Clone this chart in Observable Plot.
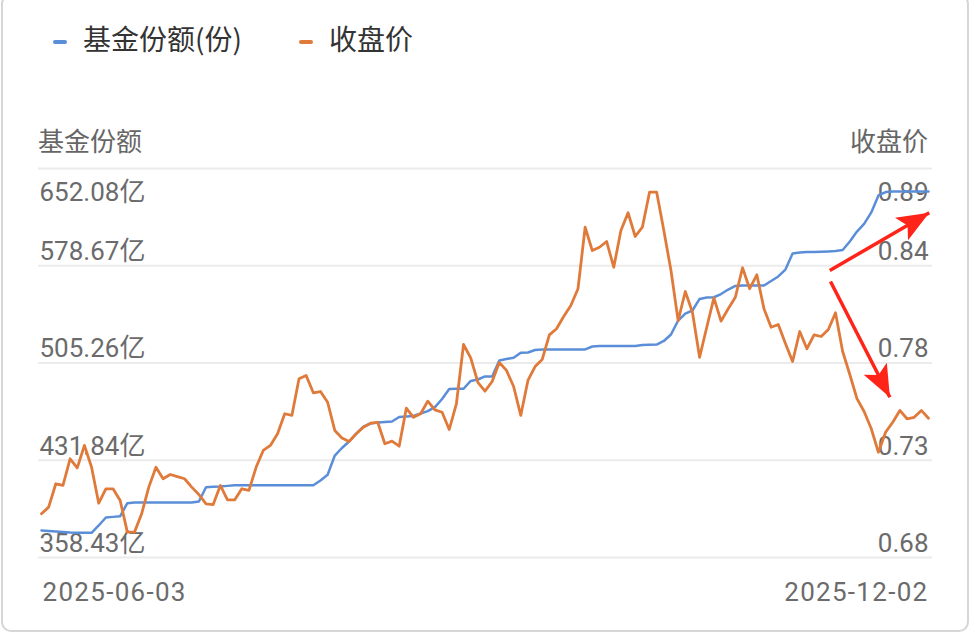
<!DOCTYPE html>
<html><head><meta charset="utf-8">
<script src="https://cdn.jsdelivr.net/npm/d3@7"></script>
<script src="https://cdn.jsdelivr.net/npm/@observablehq/plot@0.6"></script>
<style>
html,body{margin:0;padding:0;background:#fff;}
#wrap{position:relative;width:972px;height:635px;overflow:hidden;font-family:Roboto,"Noto Sans CJK SC",sans-serif;}
#border{position:absolute;left:1px;top:-6px;width:968px;height:638px;border:2px solid #d6d6d6;border-radius:10px;box-sizing:border-box;}
.leg{position:absolute;top:18px;font-size:28px;color:#333;font-family:"Noto Sans CJK SC",sans-serif;line-height:40px;white-space:nowrap;}
.sw{position:absolute;top:40px;width:14px;height:4px;border-radius:2px;}
.ttl{position:absolute;top:123px;font-size:26px;color:#666;font-family:"Noto Sans CJK SC",sans-serif;line-height:34px;white-space:nowrap;}
#chart{position:absolute;left:0;top:0;}
#chart g[aria-label="x-axis tick label"] text{letter-spacing:1.3px;}
</style></head>
<body>
<div id="wrap">
  <div id="border"></div>
  <div id="chart"></div>
  <div class="sw" style="left:53px;background:#5b8ed8"></div>
  <div class="leg" style="left:83px">基金份额(份)</div>
  <div class="sw" style="left:299px;background:#e07a3a"></div>
  <div class="leg" style="left:329px">收盘价</div>
  <div class="ttl" style="left:38px">基金份额</div>
  <div class="ttl" style="right:44px">收盘价</div>
</div>
<script>
// ---- data ----
const dateLabels = ["2025-06-03", "2025-12-02"];
const seriesNames = ["基金份额(份)", "收盘价"];
// fund shares, 亿份, one value per trading day
const shares = [378.8,378.4,378.1,377.7,377.3,377.1,377.1,377.1,382.6,388.6,
389.1,389.6,399.4,399.9,399.9,399.9,399.9,399.9,399.9,399.9,
399.9,399.9,400.7,411.5,411.8,412.0,412.5,413.0,413.0,413.0,
413.0,413.0,413.0,413.0,413.0,413.0,413.0,413.0,413.0,416.6,
420.9,435.4,441.1,446.0,452.0,457.3,459.6,460.3,460.7,461.1,
464.5,464.9,465.3,467.1,468.9,472.0,478.1,485.6,485.8,485.8,
491.7,492.8,495.1,495.1,507.1,508.3,509.2,513.0,513.2,515.1,
515.5,515.5,515.5,515.5,515.5,515.5,515.5,517.7,518.1,518.1,
518.1,518.1,518.1,518.1,518.8,519.0,519.2,521.9,526.8,537.3,
542.6,544.9,553.6,554.7,554.9,557.3,560.7,563.4,563.8,563.8,
563.8,563.8,567.2,570.6,575.8,587.9,588.7,589.0,589.1,589.3,
589.5,589.8,590.6,597.0,604.5,610.3,618.9,631.7,634.3,634.7,
634.7,634.7,634.7,634.7,634.7];
// closing price
const close = [0.7036,0.7072,0.7198,0.7189,0.7333,0.7284,0.7405,0.7287,0.7093,0.7171,
0.7171,0.7108,0.6937,0.6937,0.7036,0.7180,0.7287,0.7225,0.7248,0.7237,
0.7225,0.7180,0.7140,0.7090,0.7086,0.7189,0.7111,0.7111,0.7171,0.7162,
0.7287,0.7378,0.7405,0.7468,0.7576,0.7567,0.7765,0.7783,0.7689,0.7696,
0.7638,0.7486,0.7445,0.7426,0.7468,0.7503,0.7525,0.7530,0.7414,0.7428,
0.7401,0.7606,0.7557,0.7576,0.7644,0.7597,0.7584,0.7491,0.7630,0.7950,
0.7878,0.7746,0.7698,0.7750,0.7853,0.7810,0.7723,0.7567,0.7756,0.7831,
0.7869,0.8002,0.8035,0.8101,0.8160,0.8251,0.8583,0.8457,0.8475,0.8506,
0.8367,0.8565,0.8661,0.8533,0.8583,0.8772,0.8772,0.8565,0.8349,0.8079,
0.8236,0.8124,0.7881,0.8043,0.8202,0.8076,0.8143,0.8205,0.8364,0.8251,
0.8326,0.8143,0.8043,0.8058,0.7955,0.7858,0.8020,0.7927,0.8002,0.7993,
0.8031,0.8121,0.7912,0.7788,0.7658,0.7588,0.7495,0.7368,0.7476,0.7530,
0.7594,0.7549,0.7557,0.7594,0.7552];
// axis ticks
const shareTicks = [358.43, 431.84, 505.26, 578.67, 652.08];
const priceTickLabels = ["0.68", "0.73", "0.78", "0.84", "0.89"];
const priceDomain = [0.68, 0.89];
// red annotation arrows (x: trading-day index, y: left-axis units)
const arrowStartX = [110.2, 110.3];
const arrowStartY = [575.1, 566.8];
const arrowEndX = [124.1, 118.6];
const arrowEndY = [618.6, 479.4];

// ---- build ----
const W = 972, H = 635, mT = 168, mB = 78, mL = 41, mR = 44;
const shareDomain = [shareTicks[0], shareTicks[shareTicks.length - 1]];
const lastIdx = shares.length - 1;
const toLeft = d3.scaleLinear().domain(priceDomain).range(shareDomain);
const shareRows = shares.map((v, i) => ({i, v}));
const priceRows = close.map((p, i) => ({i, p, y: toLeft(p)}));
const priceLabelOf = new Map(shareTicks.map((t, k) => [t, priceTickLabels[k]]));

// same scales as the plot, used only to orient the arrow heads
const sx = Plot.scale({x: {domain: [0, lastIdx], range: [mL, W - mR]}});
const sy = Plot.scale({y: {domain: shareDomain, range: [H - mB, mT]}});
const arrows = arrowStartX.map((x1, k) => {
  const a = {x1, y1: arrowStartY[k], x2: arrowEndX[k], y2: arrowEndY[k]};
  const dx = sx.apply(a.x2) - sx.apply(a.x1), dy = sy.apply(a.y2) - sy.apply(a.y1);
  a.angle = Math.atan2(dx, -dy) * 180 / Math.PI;
  return a;
});
// arrow head with tip at origin pointing up
const headSymbol = {
  draw(ctx) {
    ctx.moveTo(0, 0);
    ctx.lineTo(-13, 32);
    ctx.lineTo(0, 25);
    ctx.lineTo(13, 32);
    ctx.closePath();
  }
};

const chart = Plot.plot({
  width: W,
  height: H,
  marginTop: mT,
  marginBottom: mB,
  marginLeft: mL,
  marginRight: mR,
  style: {fontFamily: "Roboto, 'Noto Sans CJK SC', sans-serif", color: "#6b6b6b", background: "transparent"},
  x: {domain: [0, lastIdx]},
  y: {domain: shareDomain},
  marks: [
    Plot.ruleY(shareTicks, {stroke: "#ebebeb", strokeWidth: 2, insetLeft: -3, insetRight: -4}),
    Plot.axisY(shareTicks.slice(0, 4), {anchor: "left", tickSize: 0, tickPadding: 0, textAnchor: "start", dx: -2, dy: -14, fontSize: 26, tickFormat: d => d.toFixed(2) + "亿", label: null}),
    Plot.axisY(shareTicks.slice(4), {anchor: "left", tickSize: 0, tickPadding: 0, textAnchor: "start", dx: -2, dy: 24, fontSize: 26, tickFormat: d => d.toFixed(2) + "亿", label: null}),
    Plot.axisY(shareTicks.slice(0, 4), {anchor: "right", tickSize: 0, tickPadding: 0, textAnchor: "end", dx: 0, dy: -14, fontSize: 26, tickFormat: d => priceLabelOf.get(d), label: null}),
    Plot.axisY(shareTicks.slice(4), {anchor: "right", tickSize: 0, tickPadding: 0, textAnchor: "end", dx: 0, dy: 24, fontSize: 26, tickFormat: d => priceLabelOf.get(d), label: null}),
    Plot.axisX([0], {anchor: "bottom", tickSize: 0, tickPadding: 0, textAnchor: "start", dx: 1, dy: 35, lineAnchor: "middle", fontSize: 26, tickFormat: () => dateLabels[0], label: null}),
    Plot.axisX([lastIdx], {anchor: "bottom", tickSize: 0, tickPadding: 0, textAnchor: "end", dx: 0, dy: 35, lineAnchor: "middle", fontSize: 26, tickFormat: () => dateLabels[1], label: null}),
    Plot.line(shareRows, {x: "i", y: "v", stroke: "#5b8ed8", strokeWidth: 2.5, strokeLinejoin: "round"}),
    Plot.line(priceRows, {x: "i", y: "y", stroke: "#e07a3a", strokeWidth: 2.8, strokeLinejoin: "round"}),
    Plot.link(arrows, {x1: "x1", y1: "y1", x2: "x2", y2: "y2", stroke: "#ff2419", strokeWidth: 3.5}),
    Plot.dot(arrows, {x: "x2", y: "y2", symbol: headSymbol, rotate: "angle", r: 6, fill: "#ff2419", stroke: "none"})
  ]
});
document.getElementById("chart").appendChild(chart);
</script>
</body></html>
